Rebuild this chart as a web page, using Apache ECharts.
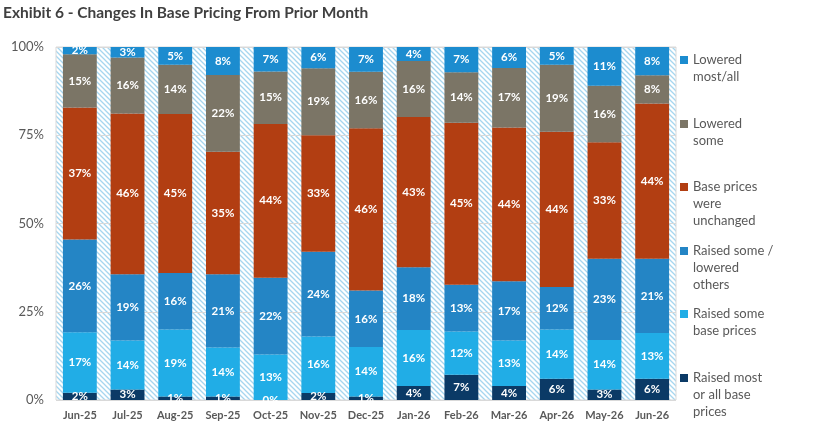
<!DOCTYPE html>
<html>
<head>
<meta charset="utf-8">
<script src="https://cdn.jsdelivr.net/npm/echarts@6/dist/echarts.min.js"></script>
<style>
  html, body { margin: 0; padding: 0; background: #fff; }
  #chart { width: 817px; height: 438px; }
</style>
</head>
<body>
<div id="chart"></div>
<script>
var months = ['Jun-25', 'Jul-25', 'Aug-25', 'Sep-25', 'Oct-25', 'Nov-25', 'Dec-25',
  'Jan-26', 'Feb-26', 'Mar-26', 'Apr-26', 'May-26', 'Jun-26'];

// bottom to top, as printed on the bars (%)
var raisedMost = [2, 3, 1, 1, 0, 2, 1, 4, 7, 4, 6, 3, 6];
var raisedSome = [17, 14, 19, 14, 13, 16, 14, 16, 12, 13, 14, 14, 13];
var raisedLowered = [26, 19, 16, 21, 22, 24, 16, 18, 13, 17, 12, 23, 21];
var unchanged = [37, 46, 45, 35, 44, 33, 46, 43, 45, 44, 44, 33, 44];
var loweredSome = [15, 16, 14, 22, 15, 19, 16, 16, 14, 17, 19, 16, 8];
var loweredMost = [2, 3, 5, 8, 7, 6, 7, 4, 7, 6, 5, 11, 8];

var yTicks = ['0%', '25%', '50%', '75%', '100%'];

var seriesDefs = [
  { name: 'Raised most\nor all base\nprices', data: raisedMost, color: '#0b3a66', lines: 3, icon: 378 },
  { name: 'Raised some\nbase prices', data: raisedSome, color: '#21ade6', lines: 2, icon: 314 },
  { name: 'Raised some /\nlowered\nothers', data: raisedLowered, color: '#2485c5', lines: 3, icon: 251 },
  { name: 'Base prices\nwere\nunchanged', data: unchanged, color: '#b23e12', lines: 3, icon: 187 },
  { name: 'Lowered\nsome', data: loweredSome, color: '#7b7566', lines: 2, icon: 124 },
  { name: 'Lowered\nmost/all', data: loweredMost, color: '#1c8ccf', lines: 2, icon: 60 }
];

// 100% stacked: each month scaled to its own total
var totals = months.map(function(m, i) {
  var s = 0;
  seriesDefs.forEach(function(d) { s += d.data[i]; });
  return s;
});

// hatch pattern for the plot background
var hatch = document.createElement('canvas');
hatch.width = 5;
hatch.height = 5;
var hc = hatch.getContext('2d');
hc.fillStyle = '#ffffff';
hc.fillRect(0, 0, 5, 5);
hc.strokeStyle = '#a6d6ef';
hc.lineWidth = 1.3;
hc.beginPath();
hc.moveTo(-1, -1); hc.lineTo(6, 6);
hc.moveTo(-1, 4); hc.lineTo(1, 6);
hc.moveTo(4, -1); hc.lineTo(6, 1);
hc.stroke();

var font = 'Lato, "Open Sans", sans-serif';
var lh = 17;

// icon is centred on the text block, so blank lines on top put it level with line one
var legends = seriesDefs.map(function(d) {
  var total = 2 * d.lines - 1;
  var pad = new Array(d.lines).join('\n');
  return {
    data: [d.name],
    orient: 'vertical',
    left: 680,
    top: d.icon - total * lh / 2,
    padding: 0,
    itemWidth: 8,
    itemHeight: 8,
    icon: 'rect',
    selectedMode: false,
    formatter: function(n) { return pad + n; },
    textStyle: {
      fontFamily: font,
      fontSize: 13,
      color: '#595959',
      lineHeight: lh
    }
  };
});

var series = seriesDefs.map(function(d) {
  return {
    name: d.name,
    type: 'bar',
    stack: 'all',
    barWidth: '71%',
    itemStyle: { color: d.color },
    data: d.data.map(function(v, i) { return v / totals[i] * 100; }),
    label: {
      show: true,
      position: 'inside',
      color: '#ffffff',
      fontFamily: font,
      fontSize: 11.5,
      fontWeight: 'bold',
      formatter: function(p) { return d.data[p.dataIndex] + '%'; }
    }
  };
});

var chart = echarts.init(document.getElementById('chart'));
chart.setOption({
  animation: false,
  backgroundColor: '#ffffff',
  title: {
    text: 'Exhibit 6 - Changes In Base Pricing From Prior Month',
    left: 3,
    top: 5,
    padding: 0,
    textStyle: { fontFamily: font, fontSize: 15.5, fontWeight: 'bold', color: '#404040' }
  },
  legend: legends,
  grid: {
    left: 56,
    right: 141,
    top: 47,
    bottom: 38,
    show: true,
    borderColor: '#d9d9d9',
    borderWidth: 1,
    backgroundColor: { image: hatch, repeat: 'repeat' }
  },
  xAxis: {
    type: 'category',
    data: months,
    axisLine: { show: false },
    axisTick: { show: false },
    axisLabel: {
      interval: 0,
      margin: 10,
      fontFamily: font,
      fontSize: 11,
      fontWeight: 'bold',
      color: '#595959'
    }
  },
  yAxis: {
    type: 'value',
    min: 0,
    max: 100,
    interval: 25,
    axisLine: { show: false },
    axisTick: { show: false },
    splitLine: { show: true, lineStyle: { color: '#d9d9d9', width: 1 } },
    axisLabel: {
      margin: 12,
      fontFamily: font,
      fontSize: 13,
      color: '#595959',
      formatter: function(v) { return yTicks[v / 25]; }
    }
  },
  series: series
});
</script>
</body>
</html>
